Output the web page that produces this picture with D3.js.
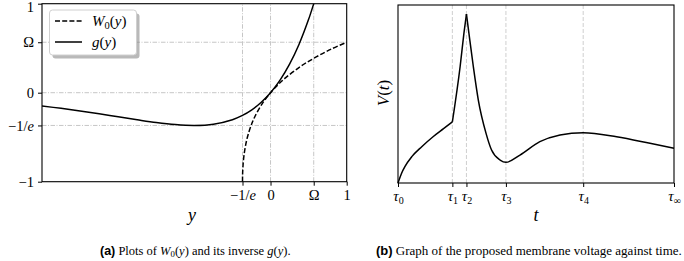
<!DOCTYPE html>
<html>
<head>
<meta charset="utf-8">
<script src="https://cdn.jsdelivr.net/npm/d3@7"></script>
<style>
  body { margin: 0; background: #fff; }
  text { font-family: "Liberation Serif", "DejaVu Serif", serif; }
</style>
</head>
<body>
<div id="chart"></div>
<script>
// left panel: g(y) = y e^y and its inverse W0(y)
const gY   = [-3, -2.75, -2.5, -2.25, -2, -1.75, -1.5, -1.25, -1, -0.75, -0.5, -0.375, -0.25, -0.125, 0, 0.125, 0.25, 0.375, 0.5, 0.567, 0.6];
const gVal = [-0.149, -0.176, -0.205, -0.237, -0.271, -0.304, -0.335, -0.358, -0.368, -0.354, -0.303, -0.258, -0.195, -0.110, 0, 0.142, 0.321, 0.545, 0.824, 1.0, 1.093];
const wY   = [-0.3679, -0.367, -0.365, -0.36, -0.35, -0.33, -0.3, -0.25, -0.2, -0.1, 0, 0.1, 0.2, 0.4, 0.6, 0.8, 1.0];
const wVal = [-1.0, -0.933, -0.880, -0.806, -0.716, -0.603, -0.489, -0.357, -0.259, -0.112, 0, 0.091, 0.169, 0.298, 0.402, 0.491, 0.567];

const OMEGA = 0.567, INV_E = -0.3679;
const leftXTicks = [INV_E, 0, OMEGA, 1];
const leftXLabels = ["\u22121/e", "0", "\u03a9", "1"];
const leftYTicks = [-1, INV_E, 0, OMEGA, 1];
const leftYLabels = ["\u22121", "\u22121/e", "0", "\u03a9", "1"];
const leftGrid = [INV_E, 0, OMEGA];

// right panel: membrane voltage, three pieces (kinks at tau1 and tau2)
const tauT = [0, 1.97, 2.48, 3.91, 6.71, 10];
const tauSub = ["0", "1", "2", "3", "4", "\u221e"];
const riseT = [0, 0.13, 0.25, 0.5, 0.86, 1.27, 1.65, 1.97];
const riseV = [0, 0.055, 0.092, 0.148, 0.204, 0.26, 0.305, 0.343];
const spikeT = [1.97, 2.25, 2.39, 2.48];
const spikeV = [0.343, 0.653, 0.843, 0.949];
const decayT = [2.48, 2.57, 2.73, 2.91, 3.19, 3.39, 3.7, 3.91, 4.42, 5.14, 5.87, 6.71, 7.92, 9.13, 10];
const decayV = [0.949, 0.841, 0.653, 0.466, 0.279, 0.185, 0.129, 0.116, 0.157, 0.232, 0.27, 0.283, 0.26, 0.223, 0.195];

const svg = d3.select("#chart").append("svg")
  .attr("width", 684).attr("height", 261);

// ---------- left panel ----------
const xL = d3.scaleLinear().domain([-3, 1]).range([42, 346.7]);
const yL = d3.scaleLinear().domain([-1, 1]).range([181.7, 3.7]);

svg.append("clipPath").attr("id", "clipL")
  .append("rect").attr("x", 42).attr("y", 3.7).attr("width", 304.7).attr("height", 178);

const gl = svg.append("g");
const dashDot = "4.5,1.5,1,1.5";
gl.selectAll(".vgrid").data(leftGrid).join("line")
  .attr("x1", d => xL(d)).attr("x2", d => xL(d))
  .attr("y1", yL(-1)).attr("y2", yL(1))
  .attr("stroke", "#b8b8b8").attr("stroke-width", 0.8).attr("stroke-dasharray", dashDot);
gl.selectAll(".hgrid").data(leftGrid).join("line")
  .attr("y1", d => yL(d)).attr("y2", d => yL(d))
  .attr("x1", xL(-3)).attr("x2", xL(1))
  .attr("stroke", "#b8b8b8").attr("stroke-width", 0.8).attr("stroke-dasharray", dashDot);

const lineL = d3.line().x(d => xL(d[0])).y(d => yL(d[1]));
gl.append("path")
  .datum(gY.map((v, i) => [v, gVal[i]]))
  .attr("clip-path", "url(#clipL)")
  .attr("d", lineL.curve(d3.curveCatmullRom))
  .attr("fill", "none").attr("stroke", "#000").attr("stroke-width", 1.5);
gl.append("path")
  .datum(wY.map((v, i) => [v, wVal[i]]))
  .attr("clip-path", "url(#clipL)")
  .attr("d", lineL.curve(d3.curveCatmullRom))
  .attr("fill", "none").attr("stroke", "#000").attr("stroke-width", 1.5)
  .attr("stroke-dasharray", "5,2.2");

gl.append("rect")
  .attr("x", 42).attr("y", 3.7).attr("width", 304.7).attr("height", 178)
  .attr("fill", "none").attr("stroke", "#000").attr("stroke-width", 1.1);

function styleAxis(g) {
  g.select(".domain").remove();
  g.selectAll(".tick line").attr("stroke", "#000").attr("stroke-width", 1);
  g.selectAll(".tick text")
    .attr("font-family", "'Liberation Serif', serif").attr("font-size", 14.5).attr("fill", "#000");
}

gl.append("g")
  .attr("transform", `translate(0,${yL(-1)})`)
  .call(d3.axisBottom(xL).tickValues(leftXTicks).tickSize(4).tickPadding(4)
    .tickFormat((d, i) => leftXLabels[i]))
  .call(styleAxis);
const yAxisL = gl.append("g")
  .attr("transform", `translate(${xL(-3)},0)`)
  .call(d3.axisLeft(yL).tickValues(leftYTicks).tickSize(4).tickPadding(4)
    .tickFormat((d, i) => leftYLabels[i]))
  .call(styleAxis);
// top label "1" sits at the window edge: nudge it down a little
yAxisL.selectAll(".tick text").filter(d => d === 1).attr("dy", "0.55em");

// italic "e" in the -1/e labels
gl.selectAll(".tick text").each(function() {
  const t = d3.select(this), s = t.text();
  if (s.endsWith("/e")) {
    t.text(null);
    t.append("tspan").text("\u22121/");
    t.append("tspan").attr("font-style", "italic").text("e");
  }
});

gl.append("text").attr("x", 192).attr("y", 221)
  .attr("text-anchor", "middle").attr("font-size", 18).attr("font-style", "italic").text("y");

// legend
const lg = gl.append("g");
lg.append("rect").attr("x", 52.5).attr("y", 13.5).attr("width", 87).attr("height", 45).attr("rx", 3)
  .attr("fill", "#8a8a8a").attr("opacity", 0.6);
lg.append("rect").attr("x", 49.5).attr("y", 10).attr("width", 87).attr("height", 45).attr("rx", 3)
  .attr("fill", "#fff").attr("stroke", "#d0d0d0").attr("stroke-width", 1);
const legendItems = [
  { base: "W", sub: "0", arg: "y", dash: "5,2.2", y: 21 },
  { base: "g", sub: null, arg: "y", dash: null, y: 42 }
];
legendItems.forEach(d => {
  lg.append("line").attr("x1", 55).attr("x2", 82).attr("y1", d.y).attr("y2", d.y)
    .attr("stroke", "#000").attr("stroke-width", 1.5).attr("stroke-dasharray", d.dash);
  const t = lg.append("text").attr("x", 92).attr("y", d.y + 5).attr("font-size", 15);
  t.append("tspan").attr("font-style", "italic").text(d.base);
  if (d.sub) t.append("tspan").attr("font-size", 10.5).attr("dy", 2.5).text(d.sub);
  t.append("tspan").attr("dy", d.sub ? -2.5 : 0).text("(");
  t.append("tspan").attr("font-style", "italic").text(d.arg);
  t.append("tspan").text(")");
});

// ---------- right panel ----------
const xR = d3.scaleLinear().domain([0, 10]).range([398, 674]);
const yR = d3.scaleLinear().domain([0, 1]).range([183, 5]);

const gr = svg.append("g");
gr.selectAll(".vgrid").data(tauT.slice(1, 5)).join("line")
  .attr("x1", d => xR(d)).attr("x2", d => xR(d))
  .attr("y1", yR(0)).attr("y2", yR(1))
  .attr("stroke", "#c4c4c4").attr("stroke-width", 0.8).attr("stroke-dasharray", "4,2");

const lineR = d3.line().x(d => xR(d[0])).y(d => yR(d[1])).curve(d3.curveMonotoneX);
[[riseT, riseV], [spikeT, spikeV], [decayT, decayV]].forEach(([ts, vs]) => {
  gr.append("path")
    .datum(ts.map((t, i) => [t, vs[i]]))
    .attr("d", lineR)
    .attr("fill", "none").attr("stroke", "#000").attr("stroke-width", 1.5)
    .attr("stroke-linejoin", "miter");
});

gr.append("rect")
  .attr("x", 398).attr("y", 5).attr("width", 276).attr("height", 178)
  .attr("fill", "none").attr("stroke", "#000").attr("stroke-width", 1.1);

gr.append("g")
  .attr("transform", `translate(0,${yR(0)})`)
  .call(d3.axisBottom(xR).tickValues(tauT).tickSize(4).tickPadding(4).tickFormat(() => ""))
  .call(styleAxis)
  .selectAll(".tick text")
  .each(function(d, i) {
    const t = d3.select(this);
    t.append("tspan").attr("font-style", "italic").attr("font-size", 15).text("\u03c4");
    t.append("tspan").attr("font-size", 10).attr("dy", 2.5).text(tauSub[i]);
  });

gr.append("text").attr("x", 536).attr("y", 221)
  .attr("text-anchor", "middle").attr("font-size", 18).attr("font-style", "italic").text("t");

const vl = gr.append("text")
  .attr("transform", "translate(389,93) rotate(-90)")
  .attr("text-anchor", "middle").attr("font-size", 17);
vl.append("tspan").attr("font-style", "italic").text("V");
vl.append("tspan").text("(");
vl.append("tspan").attr("font-style", "italic").text("t");
vl.append("tspan").text(")");

// ---------- captions ----------
function caption(x, size, tag, parts) {
  const t = svg.append("text").attr("x", x).attr("y", 255)
    .attr("text-anchor", "start").attr("font-size", size);
  t.append("tspan").attr("font-family", "'Liberation Sans', sans-serif").attr("font-weight", "bold").text(tag);
  parts.forEach(p => {
    const s = t.append("tspan").text(p.s);
    if (p.i) s.attr("font-style", "italic");
    if (p.sub) s.attr("font-size", size * 0.7).attr("dy", 2);
    if (p.up) s.attr("dy", -2);
  });
}
caption(100, 12.5, "(a)", [
  { s: " Plots of " }, { s: "W", i: true }, { s: "0", sub: true }, { s: "(", up: true },
  { s: "y", i: true }, { s: ") and its inverse " }, { s: "g", i: true }, { s: "(" },
  { s: "y", i: true }, { s: ")." }
]);
caption(376, 13, "(b)", [{ s: " Graph of the proposed membrane voltage against time." }]);
</script>
</body>
</html>
